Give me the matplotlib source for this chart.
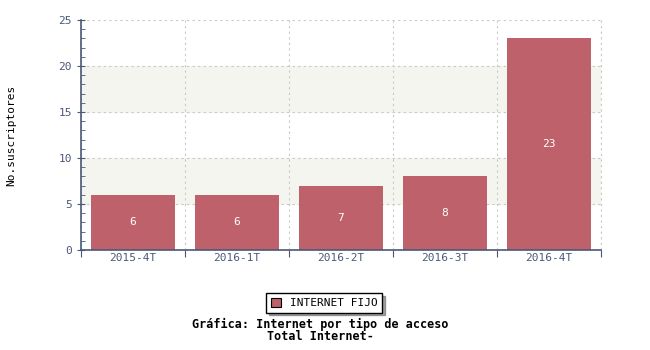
import numpy as np
import matplotlib
matplotlib.use('Agg')
import matplotlib.pyplot as plt

periodos = ['2015-4T', '2016-1T', '2016-2T', '2016-3T', '2016-4T']
suscriptores = [6, 6, 7, 8, 23]
serie = 'INTERNET FIJO'

plt.rcParams['font.family'] = ['DejaVu Sans Mono']
eje = '#4a5878'
barra = '#be616b'

fig = plt.figure(figsize=(6.5, 3.5), dpi=100)
ax = fig.add_axes([81/650, 1 - 250/350, 520/650, 230/350])

x = np.arange(len(periodos))
ax.set_xlim(-0.5, len(periodos) - 0.5)
ax.set_ylim(0, 25)

# bandas de fondo
for y0 in (5, 15):
    ax.axhspan(y0, y0 + 5, color='#f5f5f0', zorder=0)

ax.grid(True, color='#c8c8c8', linestyle=(0, (2, 3)), linewidth=0.8, zorder=1)
ax.axvline(len(periodos) - 0.5, color='#c8c8c8', linestyle=(0, (2, 3)),
           linewidth=0.8, zorder=1, clip_on=False)
ax.set_xticks(np.arange(len(periodos) + 1) - 0.5)
ax.set_xticklabels([])
ax.set_xticks(x, minor=True)
ax.set_xticklabels(periodos, minor=True)
ax.tick_params(axis='x', which='minor', length=0, labelsize=8, labelcolor=eje, pad=2)
ax.tick_params(axis='x', which='major', length=5, color=eje, direction='out')
ax.set_yticks(range(0, 26, 5))
ax.set_yticks(range(0, 26), minor=True)
ax.tick_params(axis='y', which='major', length=6, direction='inout', color=eje,
               labelsize=8, labelcolor=eje)
ax.tick_params(axis='y', which='minor', length=3, direction='in', color=eje)

for s in ('top', 'right'):
    ax.spines[s].set_visible(False)
for s in ('left', 'bottom'):
    ax.spines[s].set_color(eje)
    ax.spines[s].set_linewidth(1.2)

bars = ax.bar(x, suscriptores, width=0.81, color=barra, zorder=2, label=serie)
for xi, v in zip(x, suscriptores):
    ax.text(xi, v / 2, str(v), color='white', ha='center', va='center', fontsize=8, zorder=3)

fig.text(11/650, 1 - 135/350, 'No.suscriptores', rotation=90,
         ha='center', va='center', fontsize=8)

leg = fig.legend(handles=[bars], labels=[serie], loc='center',
                 bbox_to_anchor=(324/650, 1 - 303/350), fontsize=8,
                 frameon=True, fancybox=False, shadow=True,
                 handlelength=0.9, handleheight=0.9, borderpad=0.4)
leg.get_frame().set_edgecolor('black')
leg.get_frame().set_linewidth(1)
leg.legend_handles[0].set_edgecolor('black')
leg.legend_handles[0].set_linewidth(0.8)

fig.text(320/650, 1 - 324/350, 'Gráfica: Internet por tipo de acceso',
         ha='center', va='center', fontsize=8.5, fontweight='bold')
fig.text(320/650, 1 - 337/350, 'Total Internet-',
         ha='center', va='center', fontsize=8.5, fontweight='bold')

fig.savefig('out.png', dpi=100)
